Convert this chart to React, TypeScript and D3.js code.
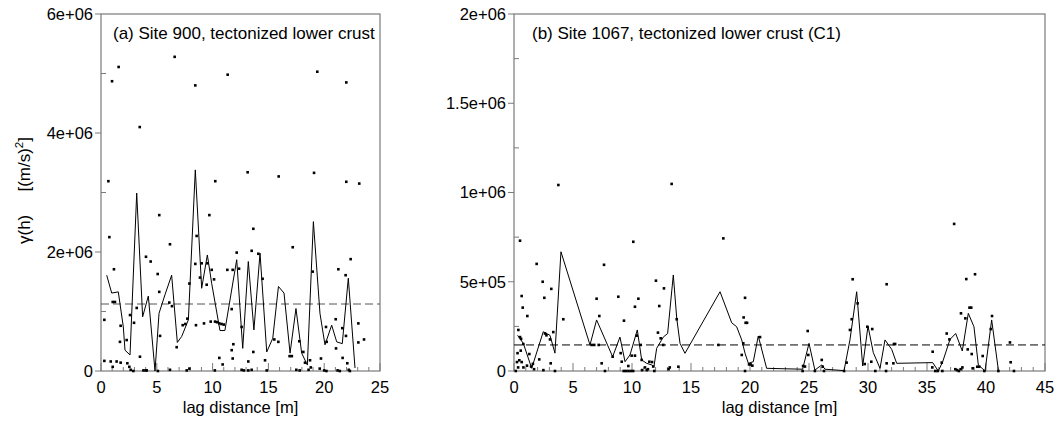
import React from "react";
import * as d3 from "d3";

const W = 1063;
const H = 426;
const FONT = "'Liberation Sans', Arial, Helvetica, sans-serif";

// ---------- Panel (a): Site 900 ----------
const titleA = "(a) Site 900, tectonized lower crust";
const xTicksA = [0, 5, 10, 15, 20, 25];
const yTicksA = [0, 2e6, 4e6, 6e6];
const yTickLabelsA = ["0", "2e+06", "4e+06", "6e+06"];
const yMinorA = [1e6, 3e6, 5e6];
const sillA = 1.126e6;

// scatter points [lag (m), gamma (1e6 (m/s)^2)]
const pointsA: [number, number][] = [
  [0.66, 3.19], [0.99, 4.87], [1.58, 5.11], [3.47, 4.1], [6.6, 5.28], [8.45, 4.8],
  [10.24, 3.19], [11.35, 4.98], [13.14, 3.34], [15.92, 3.27], [19.38, 5.03], [19.09, 3.33],
  [21.98, 4.85], [21.98, 3.18], [23.14, 3.15],
  [0.75, 2.25], [1.16, 1.71], [1.05, 1.16], [1.25, 1.16], [0.3, 0.86], [1.76, 0.76],
  [1.7, 0.49], [2.3, 0.52], [2.6, 0.94], [2.96, 0.81], [3.2, 1.06], [3.49, 0.24],
  [4.03, 1.92], [4.45, 1.84], [5.22, 2.62], [5.22, 1.33], [5.29, 0.59], [5.08, 1.63],
  [6.18, 2.13], [6.12, 1.15], [6.36, 1.09], [6.78, 0.4], [7.32, 0.77], [7.56, 0.79],
  [7.74, 0.88], [7.92, 1.47], [8.57, 2.27], [8.45, 1.8], [8.51, 0.77], [8.87, 1.57],
  [9.02, 1.81], [9.23, 0.8], [9.47, 1.45], [9.53, 1.81], [9.71, 2.62], [9.92, 1.7],
  [10.13, 1.54], [9.83, 0.83], [10.22, 0.83], [10.4, 0.82], [10.6, 0.8], [10.8, 0.79],
  [11.0, 0.78], [10.6, 0.22], [10.9, 0.11], [11.32, 1.7], [11.8, 1.7], [12.16, 1.99],
  [12.37, 1.72], [11.71, 1.04], [11.86, 0.45], [11.71, 0.35], [11.8, 0.21], [12.6, 0.74],
  [13.2, 0.16], [13.5, 2.02], [13.65, 2.39], [13.65, 0.32], [14.1, 1.97], [14.48, 1.55],
  [14.7, 0.18], [15.53, 0.53], [15.89, 0.49], [17.18, 2.08], [16.9, 0.25], [17.1, 0.25],
  [17.77, 0.5], [18.13, 0.32], [18.28, 0.14], [18.73, 0.18], [18.97, 1.67], [19.71, 0.21],
  [20.16, 0.74], [20.22, 0.49], [21.06, 0.38], [21.03, 0.87], [21.27, 1.71], [21.62, 0.72],
  [21.65, 0.22], [21.92, 1.61], [21.95, 0.59], [22.37, 1.88], [22.07, 0.13], [23.06, 0.8],
  [23.06, 0.48], [23.57, 0.53],
  [0.3, 0.17], [0.87, 0.16], [1.05, 0.07], [1.4, 0.16], [1.76, 0.14], [2.36, 0.13],
  [2.54, 0.07], [2.66, 0.02], [2.9, 0], [3.8, 0.01], [4.0, 0.01], [4.1, 0.01], [5.1, 0],
  [6.18, 0.02], [7.68, 0.01], [7.92, 0.04], [10.2, 0.01], [12.6, 0.02], [12.8, 0.01],
  [13.2, 0.01], [13.5, 0.02], [14.85, 0.01], [17.5, 0.02], [17.8, 0.01], [18.6, 0.02],
  [18.8, 0.06], [19.6, 0.04], [20.0, 0.01], [20.2, 0], [21.2, 0.01], [21.4, 0],
  [22.2, 0.02], [22.3, 0],
];

// averaged variogram line
const lineA: [number, number][] = [
  [0.51, 1.61], [0.96, 1.31], [1.55, 1.33], [2.0, 0.74], [2.15, 0.35], [2.6, 0.27],
  [3.2, 2.99], [3.73, 0.91], [4.24, 1.26], [4.84, 0], [5.2, 0.97], [5.73, 1.28],
  [6.33, 1.61], [6.84, 0.48], [7.23, 0.58], [7.83, 0.86], [8.45, 3.38], [9.02, 1.39],
  [9.53, 1.95], [9.92, 1.47], [10.66, 0.68], [11.1, 0.68], [12.16, 1.87], [12.7, 0.38],
  [13.2, 1.84], [13.7, 0.69], [14.25, 1.98], [14.85, 0.32], [15.39, 0.55], [15.9, 1.42],
  [16.4, 1.31], [16.94, 0.3], [17.47, 1.05], [17.98, 0.3], [18.49, 0.1], [19.03, 2.51],
  [19.62, 0.97], [20.07, 0.44], [20.67, 0.77], [21.12, 0.49], [21.62, 0.46], [22.16, 1.56],
  [22.76, 0.05],
];

// ---------- Panel (b): Site 1067 ----------
const titleB = "(b) Site 1067, tectonized lower crust (C1)";
const xTicksB = [0, 5, 10, 15, 20, 25, 30, 35, 40, 45];
const yTicksB = [0, 5e5, 1e6, 1.5e6, 2e6];
const yTickLabelsB = ["0", "5e+05", "1e+06", "1.5e+06", "2e+06"];
const yMinorB = [2.5e5, 7.5e5, 1.25e6, 1.75e6];
const sillB = 1.46e5;

const pointsB: [number, number][] = [
  [3.76, 1.042], [13.36, 1.048],
  [0.51, 0.73], [0.65, 0.42], [0.74, 0.355], [1.13, 0.308], [0.37, 0.23], [0.51, 0.19],
  [0.6, 0.18], [0.79, 0.151], [0.57, 0.114], [0.3, 0.1], [0.45, 0.06], [0.25, 0.05],
  [0.35, 0.02], [0.15, 0], [0.65, 0.05], [0.8, 0.02], [1.3, 0.095], [1.1, 0.03],
  [1.45, 0.025], [1.6, 0.04], [1.7, 0.01], [1.92, 0.6], [2.14, 0.065], [2.43, 0.5],
  [2.57, 0.41], [2.63, 0.21], [2.75, 0.2], [3.05, 0.177], [3.11, 0.043], [3.16, 0.46],
  [3.33, 0.218], [3.47, 0], [4.18, 0.29], [2.49, 0.005], [6.58, 0.146], [6.8, 0.146],
  [7.0, 0.405], [7.23, 0.308], [7.18, 0.146], [7.43, 0.043], [7.63, 0.595], [7.71, 0],
  [8.36, 0.08], [8.84, 0.416], [9.04, 0.1], [9.13, 0.052], [9.32, 0.282], [9.3, 0],
  [9.5, 0], [9.7, 0], [9.9, 0], [10.1, 0], [9.69, 0.028], [9.97, 0.086], [10.25, 0.086],
  [10.11, 0.724], [10.25, 0.36], [10.54, 0.405], [10.4, 0.198], [10.74, 0.146],
  [10.82, 0.062], [10.85, 0.005], [11.1, 0.02], [11.25, 0.005], [11.35, 0.01],
  [11.47, 0.052], [11.7, 0.05], [11.8, 0.025], [11.89, 0], [12.03, 0.506], [12.2, 0.215],
  [12.31, 0.364], [12.43, 0.183], [12.65, 0.146], [12.71, 0.463], [13.1, 0.01],
  [13.2, 0.02], [13.79, 0.29], [13.93, 0.024], [17.74, 0.743], [17.32, 0.146],
  [19.3, 0.09], [19.43, 0.155], [19.46, 0.3], [19.58, 0.41], [19.63, 0.27], [19.75, 0.27],
  [19.58, 0], [19.92, 0.037], [20.05, 0.037], [20.2, 0.03], [20.85, 0.19],
  [24.46, 0], [24.5, 0.028], [24.66, 0.025], [24.89, 0.224], [24.94, 0.09], [25.5, 0],
  [26.08, 0.062], [26.16, 0.024], [26.27, 0], [27.97, 0], [28.19, 0.047], [28.47, 0.23],
  [28.62, 0.29], [28.7, 0.514], [29.12, 0.379], [29.72, 0.039], [29.94, 0.248],
  [30.36, 0.235], [30.28, 0.052], [30.62, 0], [31.58, 0.486], [31.58, 0.043], [31.53, 0],
  [32.2, 0.151], [32.3, 0.151], [32.15, 0.043], [35.48, 0.108], [35.45, 0.02], [35.7, 0],
  [35.9, 0], [36.3, 0], [36.25, 0.047], [36.67, 0.21], [36.9, 0.177], [37.3, 0.824],
  [37.4, 0.01], [37.55, 0.005], [37.7, 0], [37.85, 0.01], [38.0, 0.02], [37.88, 0.323],
  [38.33, 0.515], [38.6, 0.355], [38.75, 0.355], [38.25, 0.295], [38.45, 0.121],
  [38.79, 0.095], [39.07, 0.542], [38.87, 0.015], [39.26, 0.024], [39.43, 0.024],
  [39.72, 0.084], [39.86, 0], [40.4, 0.235], [40.51, 0.308], [41.05, 0], [42.03, 0.16],
  [42.09, 0.049], [42.37, 0],
];

const lineB: [number, number][] = [
  [0.3, 0.2], [0.79, 0.155], [1.5, 0.015], [2.48, 0.22], [3.05, 0.2], [3.47, 0.1],
  [3.98, 0.668], [6.44, 0.146], [7.0, 0.286], [8.36, 0.08], [8.98, 0.19], [9.41, 0.052],
  [9.83, 0.09], [10.45, 0.23], [10.82, 0.062], [11.24, 0.043], [11.67, 0.034],
  [11.86, 0.024], [12.09, 0.127], [12.65, 0.19], [13.02, 0.21], [13.5, 0.538],
  [13.79, 0.295], [14.07, 0.155], [14.49, 0.099], [17.46, 0.444], [18.45, 0.27],
  [18.87, 0.248], [19.3, 0.174], [19.58, 0.099], [19.86, 0.043], [20.28, 0.052],
  [20.7, 0.196], [21.41, 0.015], [24.46, 0.01], [25.0, 0.155], [25.5, 0.005],
  [26.08, 0.034], [26.36, 0.01], [27.97, 0.002], [28.47, 0.174], [29.04, 0.444],
  [29.55, 0.028], [30.0, 0.252], [30.45, 0.103], [31.02, 0.015], [31.44, 0.174],
  [32.01, 0.121], [32.43, 0.043], [35.48, 0.047], [35.96, 0], [36.33, 0.052],
  [36.95, 0.177], [37.43, 0.21], [37.99, 0.112], [38.5, 0.323], [38.98, 0.248],
  [39.35, 0.034], [39.92, 0], [40.48, 0.286], [41.05, 0.005],
];

type PanelProps = {
  left: number;
  right: number;
  top: number;
  bottom: number;
  xMax: number;
  yMax: number;
  xTicks: number[];
  yTicks: number[];
  yTickLabels: string[];
  yMinor: number[];
  points: [number, number][];
  line: [number, number][];
  sill: number;
  sillColor: string;
  title: string;
  titleX: number;
};

const FRAME = "#7a7a7a";

function Panel(p: PanelProps) {
  const x = d3.scaleLinear().domain([0, p.xMax]).range([p.left, p.right]);
  const y = d3.scaleLinear().domain([0, p.yMax]).range([p.bottom, p.top]);
  const xMinor = d3.range(0, p.xMax + 0.001, 1).filter((v) => v % 5 !== 0);
  const path = d3
    .line<[number, number]>()
    .x((d) => x(d[0]))
    .y((d) => y(d[1] * 1e6))(p.line);
  const s = 2.6;
  return (
    <g>
      <rect
        x={p.left}
        y={p.top}
        width={p.right - p.left}
        height={p.bottom - p.top}
        fill="none"
        stroke={FRAME}
        strokeWidth={1.2}
      />
      {xMinor.map((v) => (
        <line key={"xm" + v} x1={x(v)} x2={x(v)} y1={p.bottom} y2={p.bottom - 4} stroke={FRAME} />
      ))}
      {p.xTicks.map((v) => (
        <line key={"xM" + v} x1={x(v)} x2={x(v)} y1={p.bottom} y2={p.bottom - 8} stroke={FRAME} />
      ))}
      {p.xTicks.map((v) => (
        <text key={"xl" + v} x={x(v)} y={393} textAnchor="middle" fontSize={16.5} fontFamily={FONT}>
          {v}
        </text>
      ))}
      {p.yTicks.map((v) => (
        <line key={"yM" + v} x1={p.left - 6} x2={p.left} y1={y(v)} y2={y(v)} stroke={FRAME} />
      ))}
      {p.yMinor.map((v) => (
        <line key={"ym" + v} x1={p.left} x2={p.left + 5} y1={y(v)} y2={y(v)} stroke={FRAME} />
      ))}
      {p.yTicks.map((v, i) => (
        <text
          key={"yl" + v}
          x={p.left - 8}
          y={y(v)}
          dy="0.36em"
          textAnchor="end"
          fontSize={16.5}
          fontFamily={FONT}
        >
          {p.yTickLabels[i]}
        </text>
      ))}
      <line
        x1={p.left}
        x2={p.right}
        y1={y(p.sill)}
        y2={y(p.sill)}
        stroke={p.sillColor}
        strokeWidth={1}
        strokeDasharray="8,4"
      />
      <path d={path || ""} fill="none" stroke="#000" strokeWidth={1} />
      {p.points.map((d, i) => (
        <rect
          key={"pt" + i}
          x={x(d[0]) - s / 2}
          y={y(d[1] * 1e6) - s / 2}
          width={s}
          height={s}
          fill="#000"
        />
      ))}
      <text x={p.titleX} y={39} fontSize={17} fontFamily={FONT}>
        {p.title}
      </text>
      <text
        x={(p.left + p.right) / 2}
        y={413}
        textAnchor="middle"
        fontSize={16.5}
        fontFamily={FONT}
      >
        lag distance [m]
      </text>
    </g>
  );
}

export default function App() {
  return (
    <svg
      width={W}
      height={H}
      viewBox={`0 0 ${W} ${H}`}
      style={{ position: "absolute", left: 0, top: 0, background: "#fff" }}
    >
      <rect x={0} y={0} width={W} height={H} fill="#fff" />
      <Panel
        left={101}
        right={380}
        top={14}
        bottom={371}
        xMax={25}
        yMax={6e6}
        xTicks={xTicksA}
        yTicks={yTicksA}
        yTickLabels={yTickLabelsA}
        yMinor={yMinorA}
        points={pointsA}
        line={lineA}
        sill={sillA}
        sillColor="#555"
        title={titleA}
        titleX={113}
      />
      <Panel
        left={514}
        right={1045}
        top={14}
        bottom={371}
        xMax={45}
        yMax={2e6}
        xTicks={xTicksB}
        yTicks={yTicksB}
        yTickLabels={yTickLabelsB}
        yMinor={yMinorB}
        points={pointsB}
        line={lineB}
        sill={sillB}
        sillColor="#000"
        title={titleB}
        titleX={532}
      />
      <text transform="translate(30,244) rotate(-90)" fontSize={17} fontFamily={FONT}>
        γ(h)
      </text>
      <text transform="translate(30,137) rotate(-90)" fontSize={17} fontFamily={FONT} textAnchor="end">
        [(m/s)
        <tspan fontSize={11.5} dy={-7}>
          2
        </tspan>
        <tspan dy={7}>]</tspan>
      </text>
    </svg>
  );
}
